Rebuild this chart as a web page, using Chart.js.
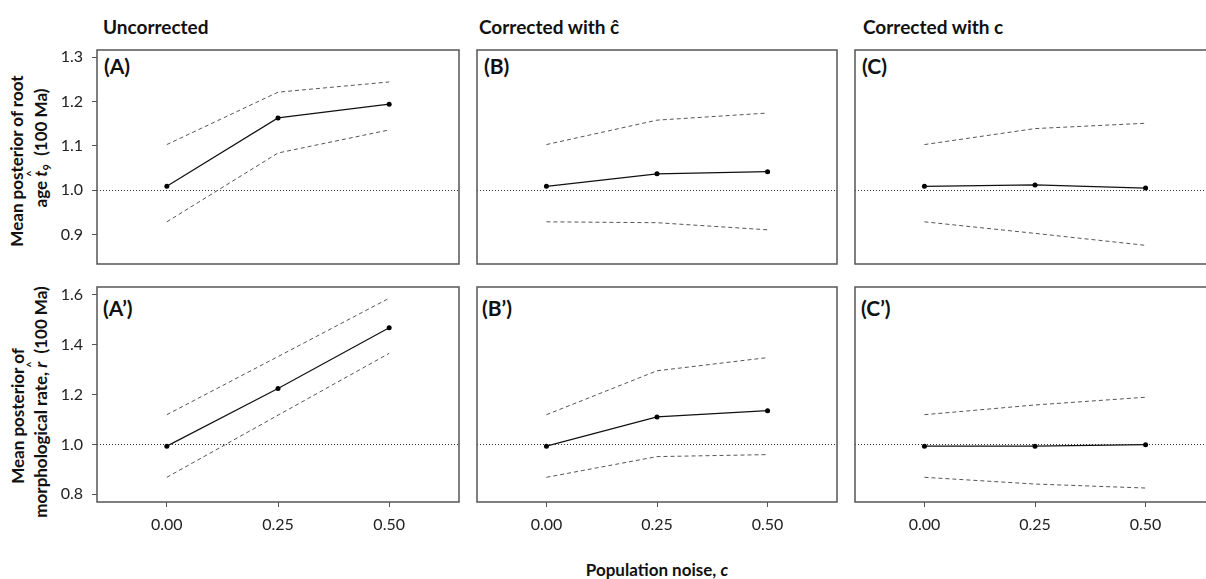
<!DOCTYPE html>
<html>
<head>
<meta charset="utf-8">
<script src="https://cdn.jsdelivr.net/npm/chart.js@4.4.1/dist/chart.umd.min.js"></script>
<style>
  html, body { margin: 0; padding: 0; background: #fff; overflow: hidden; }
  body { width: 1206px; height: 579px; position: relative; font-family: Lato, "Open Sans", sans-serif; color: #111; }
  canvas { position: absolute; }
  .txt { position: absolute; white-space: nowrap; }
  .coltitle { font-weight: bold; font-size: 19px; }
  .plabel { font-weight: bold; font-size: 21px; }
  .ytitle { font-weight: bold; font-size: 17px; line-height: 20px; height: 20px; text-align: center; transform: rotate(-90deg); transform-origin: center center; }
  .hat { position: relative; font-style: italic; }
  .hat span { position: absolute; left: 0px; top: -5px; font-style: normal; font-size: 11px; line-height: 11px; }
</style>
</head>
<body>
<div class="txt coltitle" style="left:103px;top:15px;">Uncorrected</div>
<div class="txt coltitle" style="left:479px;top:15px;">Corrected with ĉ</div>
<div class="txt coltitle" style="left:863px;top:15px;">Corrected with c</div>

<div class="txt ytitle" style="left:-83px;top:151px;width:200px;">Mean posterior of root</div>
<div class="txt ytitle" style="left:-59px;top:138px;width:200px;">age <span class="hat">t<span>^</span></span><sub style="font-size:11px">9</sub>&nbsp; (100 Ma)</div>
<div class="txt ytitle" style="left:-82px;top:406px;width:200px;">Mean posterior of</div>
<div class="txt ytitle" style="left:-99px;top:392px;width:280px;">morphological rate, <span class="hat">r<span>^</span></span>&nbsp; (100 Ma)</div>

<div class="txt plabel" style="left:104px;top:53px;">(A)</div>
<div class="txt plabel" style="left:484px;top:53px;">(B)</div>
<div class="txt plabel" style="left:862px;top:53px;">(C)</div>
<div class="txt plabel" style="left:103px;top:295px;">(A’)</div>
<div class="txt plabel" style="left:482px;top:295px;">(B’)</div>
<div class="txt plabel" style="left:861px;top:295px;">(C’)</div>

<div class="txt" style="left:557px;top:559px;width:200px;text-align:center;font-weight:bold;font-size:17px;">Population noise, <i>c</i></div>

<script>
const noise = [0, 0.25, 0.5];
const rootTicks = [0.9, 1.0, 1.1, 1.2, 1.3];
const rateTicks = [0.8, 1.0, 1.2, 1.4, 1.6];

// root age, panels A B C
const rootMeanA = [1.009, 1.163, 1.194];
const rootUpA = [1.103, 1.221, 1.244];
const rootLowA = [0.929, 1.084, 1.136];
const rootMeanB = [1.009, 1.037, 1.042];
const rootUpB = [1.103, 1.158, 1.174];
const rootLowB = [0.929, 0.927, 0.911];
const rootMeanC = [1.009, 1.012, 1.005];
const rootUpC = [1.103, 1.139, 1.151];
const rootLowC = [0.929, 0.903, 0.876];

// morphological rate, panels A' B' C'
const rateMeanA = [0.993, 1.224, 1.468];
const rateUpA = [1.119, 1.352, 1.586];
const rateLowA = [0.868, 1.117, 1.365];
const rateMeanB = [0.993, 1.110, 1.135];
const rateUpB = [1.119, 1.295, 1.348];
const rateLowB = [0.868, 0.951, 0.959];
const rateMeanC = [0.993, 0.993, 0.999];
const rateUpC = [1.119, 1.158, 1.189];
const rateLowC = [0.868, 0.841, 0.825];

const colLeft = [97, 475, 853];
const panelW = 364;
const rowTop = [48, 285];
const rowH = [218, 217];
const yRange = [[0.834, 1.316], [0.769, 1.631]];
const xMin = -0.157, xMax = 0.657;

const framePlugin = {
  id: 'frame',
  beforeDatasetsDraw(chart) {
    const a = chart.chartArea, ctx = chart.ctx;
    const y = chart.scales.y.getPixelForValue(1.0);
    ctx.save();
    ctx.strokeStyle = '#333';
    ctx.lineWidth = 1;
    ctx.setLineDash([1, 2]);
    ctx.beginPath();
    ctx.moveTo(a.left, Math.round(y) + 0.5);
    ctx.lineTo(a.right, Math.round(y) + 0.5);
    ctx.stroke();
    ctx.restore();
  },
  afterDraw(chart) {
    const a = chart.chartArea, ctx = chart.ctx;
    ctx.save();
    ctx.strokeStyle = '#555';
    ctx.lineWidth = 1.5;
    ctx.strokeRect(a.left, a.top, a.right - a.left, a.bottom - a.top);
    ctx.restore();
  }
};

function pts(vals) {
  return noise.map((x, i) => ({ x: x, y: vals[i] }));
}

function makePanel(row, col, mean, up, low) {
  const showY = col === 0;
  const showX = row === 1;
  const padL = showY ? 60 : 2;
  const padB = showX ? 40 : 2;
  const cv = document.createElement('canvas');
  const w = panelW + padL + 2;
  const h = rowH[row] + 2 + padB;
  cv.width = w; cv.height = h;
  cv.style.left = (colLeft[col] - padL) + 'px';
  cv.style.top = (rowTop[row] - 2) + 'px';
  cv.style.width = w + 'px'; cv.style.height = h + 'px';
  document.body.appendChild(cv);
  const tickVals = row === 0 ? rootTicks : rateTicks;

  new Chart(cv, {
    type: 'line',
    data: {
      datasets: [
        { data: pts(up), borderColor: '#555', borderWidth: 1, borderDash: [4, 3], pointRadius: 0 },
        { data: pts(low), borderColor: '#555', borderWidth: 1, borderDash: [4, 3], pointRadius: 0 },
        { data: pts(mean), borderColor: '#111', borderWidth: 1.2, pointRadius: 2.5,
          pointBackgroundColor: '#000', pointBorderColor: '#000', pointBorderWidth: 0 }
      ]
    },
    options: {
      responsive: false,
      animation: false,
      devicePixelRatio: 1,
      layout: { padding: { left: showY ? 0 : 2, right: 2, top: 2, bottom: showX ? 0 : 2 } },
      plugins: { legend: { display: false }, tooltip: { enabled: false } },
      scales: {
        x: {
          type: 'linear', min: xMin, max: xMax, display: showX,
          afterBuildTicks: s => { s.ticks = noise.map(v => ({ value: v })); },
          afterFit: s => {
            s.paddingLeft = 0; s.paddingRight = 0;
            if (showX) s.height = 40;
          },
          grid: { display: true, drawOnChartArea: false, drawTicks: true, tickLength: 5, color: '#555' },
          border: { display: false },
          ticks: { padding: 8, color: '#222', font: { family: 'Lato', size: 16 },
            maxRotation: 0, callback: v => v.toFixed(2) }
        },
        y: {
          type: 'linear', min: yRange[row][0], max: yRange[row][1], display: showY,
          afterBuildTicks: s => { s.ticks = tickVals.map(v => ({ value: v })); },
          afterFit: s => {
            s.paddingTop = 0; s.paddingBottom = 0;
            if (showY) s.width = 60;
          },
          grid: { display: true, drawOnChartArea: false, drawTicks: true, tickLength: 5, color: '#555' },
          border: { display: false },
          ticks: { padding: 9, color: '#222', font: { family: 'Lato', size: 16 },
            callback: v => v.toFixed(1) }
        }
      }
    },
    plugins: [framePlugin]
  });
}

makePanel(0, 0, rootMeanA, rootUpA, rootLowA);
makePanel(0, 1, rootMeanB, rootUpB, rootLowB);
makePanel(0, 2, rootMeanC, rootUpC, rootLowC);
makePanel(1, 0, rateMeanA, rateUpA, rateLowA);
makePanel(1, 1, rateMeanB, rateUpB, rateLowB);
makePanel(1, 2, rateMeanC, rateUpC, rateLowC);
</script>
</body>
</html>
